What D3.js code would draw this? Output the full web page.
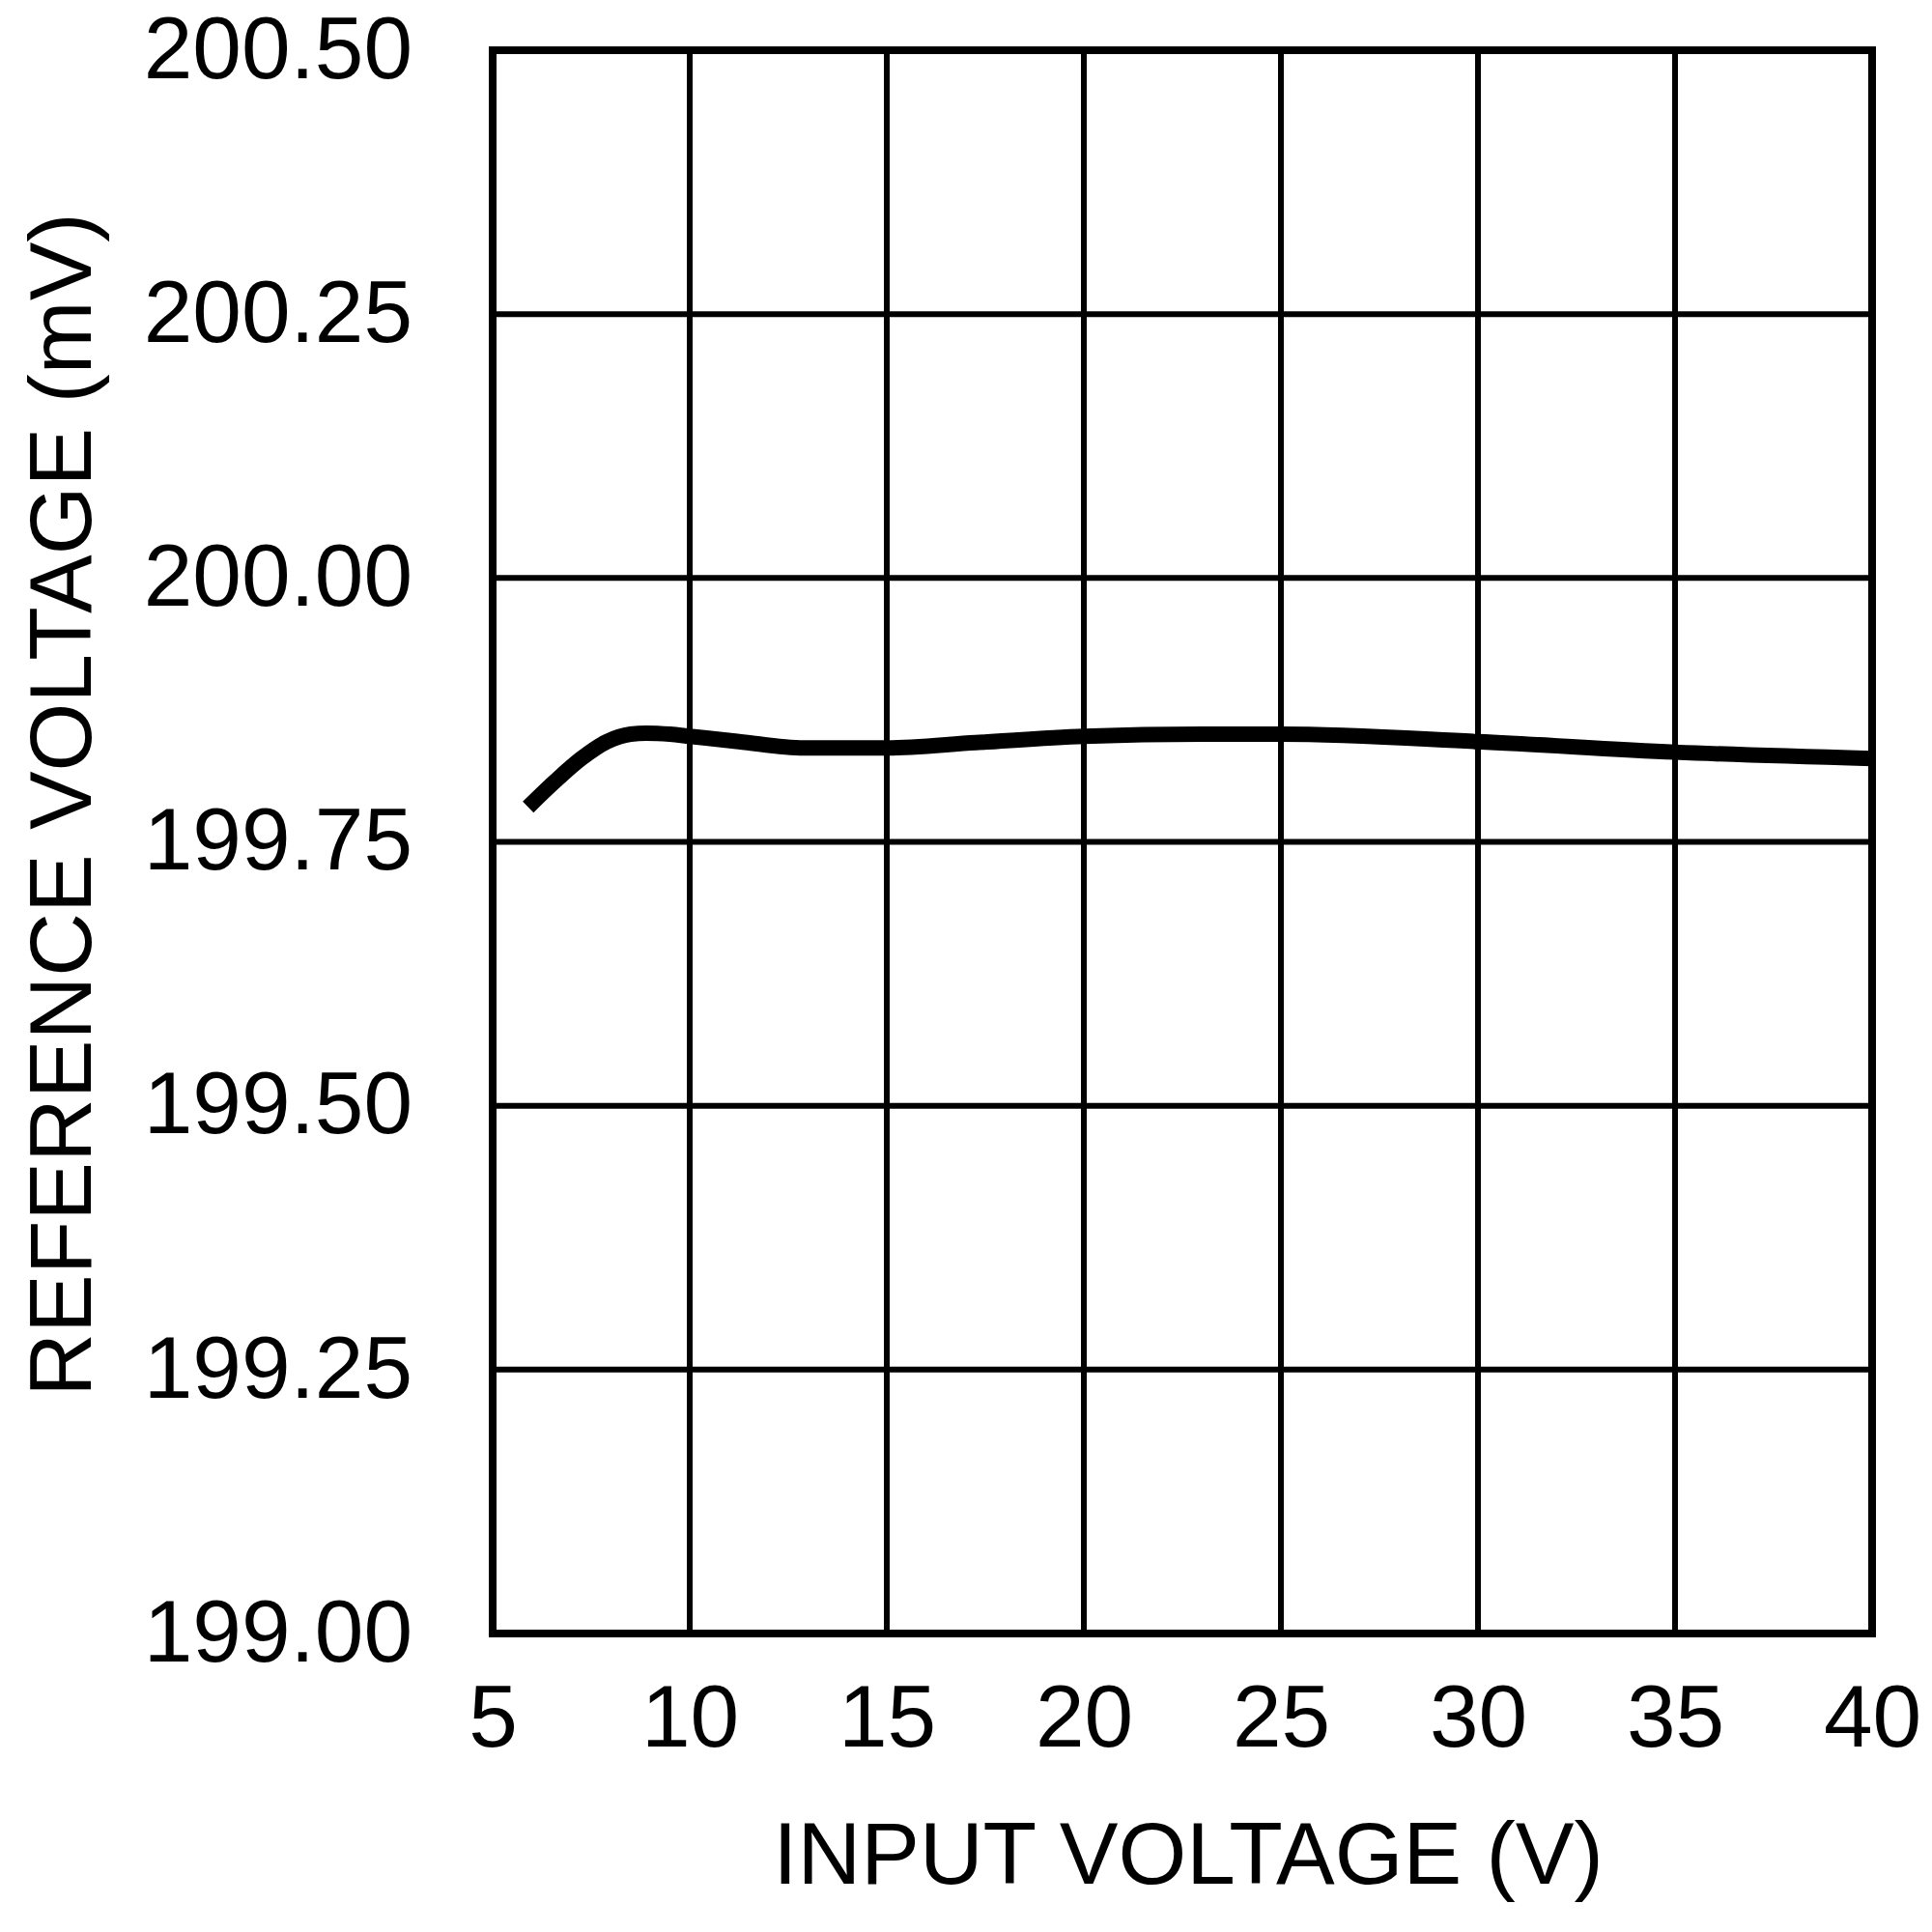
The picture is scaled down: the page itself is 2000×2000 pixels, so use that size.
<!DOCTYPE html>
<html>
<head>
<meta charset="utf-8">
<script src="https://cdn.jsdelivr.net/npm/d3@7"></script>
<style>
  html, body { margin: 0; padding: 0; background: #fff; }
  text { font-family: "Liberation Sans", Arial, sans-serif; fill: #000; }
</style>
</head>
<body>
<svg id="chart" width="2000" height="2000"></svg>
<script>
// Data
const inputVoltage = [5.9, 6.6, 7.25, 7.9, 8.5, 8.9, 9.5, 10, 11.25, 12.9, 15, 17.25, 20, 23, 25, 30, 35, 40];
const referenceVoltage = [199.783, 199.808, 199.829, 199.845, 199.852, 199.853, 199.852, 199.850, 199.845, 199.839, 199.839, 199.844, 199.850, 199.852, 199.852, 199.845, 199.835, 199.829];
const xTicks = [5, 10, 15, 20, 25, 30, 35, 40];
const yTicks = [199.00, 199.25, 199.50, 199.75, 200.00, 200.25, 200.50];
const xTitle = "INPUT VOLTAGE (V)";
const yTitle = "REFERENCE VOLTAGE (mV)";

const svg = d3.select("#chart");
const mLeft = 510, mRight = 1938, mTop = 52, mBottom = 1691;

const x = d3.scaleLinear().domain([5, 40]).range([mLeft, mRight]);
const y = d3.scaleLinear().domain([199.0, 200.5]).range([mBottom, mTop]);

// Grid
const grid = svg.append("g");
grid.selectAll("line.v").data(xTicks.slice(1, -1)).enter().append("line")
  .attr("x1", d => x(d)).attr("x2", d => x(d))
  .attr("y1", mTop).attr("y2", mBottom)
  .attr("stroke", "#000").attr("stroke-width", 6);
grid.selectAll("line.h").data(yTicks.slice(1, -1)).enter().append("line")
  .attr("x1", mLeft).attr("x2", mRight)
  .attr("y1", d => y(d)).attr("y2", d => y(d))
  .attr("stroke", "#000").attr("stroke-width", 6);

// Axes (labels only, drawn with d3 axes)
const xAxis = d3.axisBottom(x).tickValues(xTicks).tickSize(0).tickPadding(0).tickFormat(d3.format("d"));
const gx = svg.append("g").attr("transform", `translate(0,${mBottom})`).call(xAxis);
gx.select(".domain").remove();
gx.selectAll("text")
  .attr("font-size", 91)
  .attr("dy", null)
  .attr("y", 117)
  .style("font-family", "'Liberation Sans', Arial, sans-serif")
  .attr("fill", "#000");

const yAxis = d3.axisLeft(y).tickValues(yTicks).tickSize(0).tickPadding(0).tickFormat(d3.format(".2f"));
const gy = svg.append("g").attr("transform", `translate(${mLeft},0)`).call(yAxis);
gy.select(".domain").remove();
gy.selectAll("text")
  .attr("font-size", 91)
  .attr("x", -83)
  .attr("dy", "0.31em")
  .style("font-family", "'Liberation Sans', Arial, sans-serif")
  .attr("fill", "#000");

// Frame
svg.append("rect")
  .attr("x", mLeft).attr("y", mTop)
  .attr("width", mRight - mLeft).attr("height", mBottom - mTop)
  .attr("fill", "none").attr("stroke", "#000").attr("stroke-width", 8);

// Curve
const line = d3.line()
  .x((d, i) => x(inputVoltage[i]))
  .y((d, i) => y(referenceVoltage[i]))
  .curve(d3.curveMonotoneX);
svg.append("path")
  .datum(referenceVoltage)
  .attr("d", line)
  .attr("fill", "none")
  .attr("stroke", "#000")
  .attr("stroke-width", 16)
  .attr("stroke-linecap", "butt")
  .attr("stroke-linejoin", "round");

// Titles
svg.append("text")
  .attr("x", (mLeft + mRight) / 2 + 6)
  .attr("y", 1950)
  .attr("text-anchor", "middle")
  .attr("font-size", 91)
  .text(xTitle);

svg.append("text")
  .attr("transform", `translate(94,833) rotate(-90)`)
  .attr("text-anchor", "middle")
  .attr("font-size", 91)
  .text(yTitle);
</script>
</body>
</html>
